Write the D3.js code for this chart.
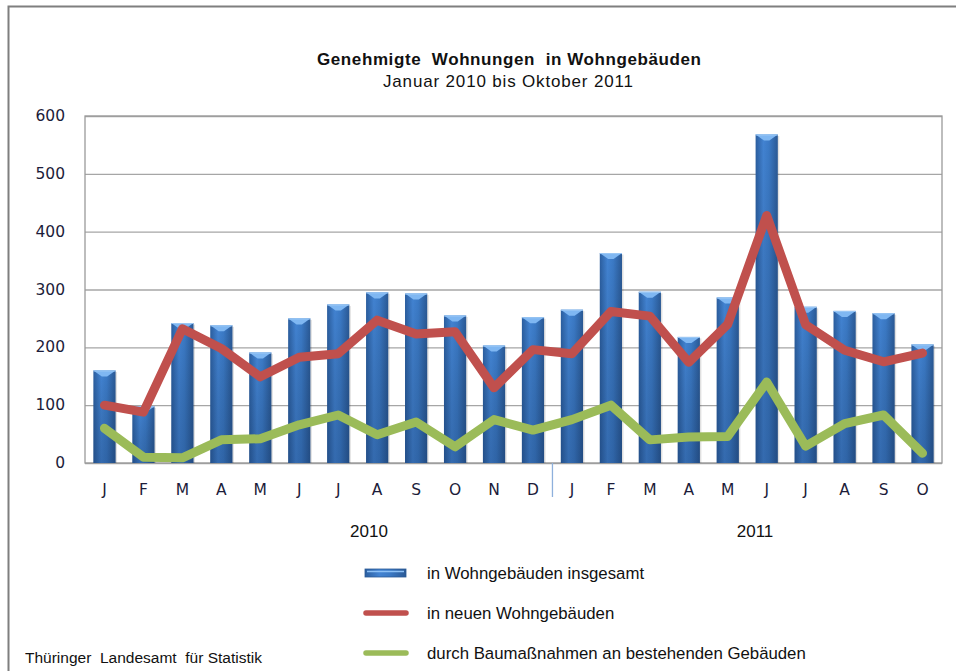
<!DOCTYPE html>
<html>
<head>
<meta charset="utf-8">
<script src="https://cdn.jsdelivr.net/npm/d3@7"></script>
<style>
  body { margin: 0; background: #fff; }
  svg { display: block; }
</style>
</head>
<body>
<svg></svg>
<script>
const width = 956;
const height = 671;
const margin = { top: 116, right: 14, bottom: 208, left: 85 };
const innerWidth = 942 - margin.left;
const innerHeight = 463 - margin.top;

// data, Jan 2010 .. Oct 2011
const months = ['J','F','M','A','M','J','J','A','S','O','N','D',
                'J','F','M','A','M','J','J','A','S','O'];
const years = ['2010', '2011'];
const insgesamt = [160, 98, 242, 238, 191, 250, 274, 295, 293, 255, 203, 252,
                   265, 363, 296, 218, 286, 568, 270, 263, 259, 205];
const neueGebaeude = [100, 88, 232, 198, 149, 183, 189, 247, 223, 227, 130, 196,
                      189, 262, 254, 174, 240, 428, 239, 195, 175, 190];
const bestehende = [60, 10, 9, 40, 42, 66, 83, 49, 71, 28, 75, 57,
                    75, 100, 40, 45, 46, 140, 29, 68, 83, 17];
const yTicks = [0, 100, 200, 300, 400, 500, 600];
const legendLabels = ['in Wohngebäuden insgesamt', 'in neuen Wohngebäuden',
                      'durch Baumaßnahmen an bestehenden Gebäuden'];

const svg = d3.select('svg')
  .attr('width', width)
  .attr('height', height);

const defs = svg.append('defs');
const grad = defs.append('linearGradient')
  .attr('id', 'barGrad')
  .attr('x1', 0).attr('x2', 1).attr('y1', 0).attr('y2', 0);
grad.append('stop').attr('offset', '0%').attr('stop-color', '#2b5e9f');
grad.append('stop').attr('offset', '35%').attr('stop-color', '#4283d2');
grad.append('stop').attr('offset', '60%').attr('stop-color', '#3b7ac6');
grad.append('stop').attr('offset', '100%').attr('stop-color', '#2a5995');
const vgrad = defs.append('linearGradient')
  .attr('id', 'barShade')
  .attr('x1', 0).attr('x2', 0).attr('y1', 0).attr('y2', 1);
vgrad.append('stop').attr('offset', '0%').attr('stop-color', '#000').attr('stop-opacity', 0);
vgrad.append('stop').attr('offset', '100%').attr('stop-color', '#0b2247').attr('stop-opacity', 0.25);

// outer frame
svg.append('path')
  .attr('d', `M8.5,${height} V6.5 H${width}`)
  .attr('fill', 'none')
  .attr('stroke', '#7f7f7f')
  .attr('stroke-width', 2);

// title
svg.append('text')
  .attr('x', 509).attr('y', 65)
  .attr('text-anchor', 'middle')
  .attr('xml:space', 'preserve')
  .attr('textLength', 384)
  .attr('lengthAdjust', 'spacing')
  .style('font-family', 'Liberation Sans, Arial, sans-serif')
  .style('font-size', '17px')
  .style('font-weight', 'bold')
  .attr('fill', '#111')
  .text('Genehmigte  Wohnungen  in Wohngebäuden');
svg.append('text')
  .attr('x', 508).attr('y', 87)
  .attr('text-anchor', 'middle')
  .attr('textLength', 250)
  .attr('lengthAdjust', 'spacing')
  .style('font-family', 'Liberation Sans, Arial, sans-serif')
  .style('font-size', '17px')
  .attr('fill', '#111')
  .text('Januar 2010 bis Oktober 2011');

const g = svg.append('g')
  .attr('transform', `translate(${margin.left}, ${margin.top})`);

const xScale = d3.scaleBand()
  .domain(d3.range(months.length))
  .range([margin.left, margin.left + innerWidth])
  .paddingInner(0.43)
  .paddingOuter(0.215);

const yScale = d3.scaleLinear()
  .domain([0, 600])
  .range([innerHeight, 0]);

// grid lines
const yAxis = d3.axisLeft(yScale)
  .tickValues(yTicks)
  .tickSize(-innerWidth)
  .tickFormat('');

const yAxisG = g.append('g').call(yAxis);
yAxisG.select('.domain').remove();
yAxisG.selectAll('.tick line')
  .attr('stroke', '#a6a6a6')
  .attr('stroke-width', 1.3);

// y labels
svg.append('g').selectAll('text').data(yTicks)
  .enter().append('text')
  .attr('x', 65)
  .attr('y', d => margin.top + yScale(d) + 5)
  .attr('text-anchor', 'end')
  .style('font-family', 'DejaVu Sans, Verdana, sans-serif')
  .style('font-size', '15.5px')
  .attr('fill', '#1c1c3a')
  .text(d => d);

// plot border
g.append('rect')
  .attr('width', innerWidth)
  .attr('height', innerHeight)
  .attr('fill', 'none')
  .attr('stroke', '#9a9a9a')
  .attr('stroke-width', 1.3);

// bars
const bw = xScale.bandwidth();
const barG = g.append('g').attr('transform', `translate(${-margin.left}, 0)`);
const bar = barG.selectAll('g').data(insgesamt)
  .enter().append('g')
  .attr('transform', (d, i) => `translate(${xScale(i)}, 0)`);

bar.append('rect')
  .attr('x', 1.5).attr('y', d => yScale(d) + 1.5)
  .attr('width', bw).attr('height', d => innerHeight - yScale(d) - 1.5)
  .attr('fill', '#000').attr('opacity', 0.12);
bar.append('rect')
  .attr('y', d => yScale(d))
  .attr('width', bw)
  .attr('height', d => innerHeight - yScale(d))
  .attr('fill', 'url(#barGrad)');
bar.append('rect')
  .attr('y', d => yScale(d))
  .attr('width', bw)
  .attr('height', d => innerHeight - yScale(d))
  .attr('fill', 'url(#barShade)');
// light cap on top of each bar
bar.append('path')
  .attr('d', d => {
    const y0 = yScale(d);
    return `M0,${y0} H${bw} L${bw * 0.62},${y0 + 6} H${bw * 0.38} Z`;
  })
  .attr('fill', '#7fb7f2');
bar.append('line')
  .attr('x1', 0).attr('x2', bw)
  .attr('y1', d => yScale(d) + 0.5).attr('y2', d => yScale(d) + 0.5)
  .attr('stroke', '#9cc8f5').attr('stroke-width', 1);

// lines
const line = d3.line()
  .x((d, i) => xScale(i) + bw / 2)
  .y(d => margin.top + yScale(d));

svg.append('path')
  .datum(neueGebaeude)
  .attr('d', line)
  .attr('fill', 'none')
  .attr('stroke', '#c0504d')
  .attr('stroke-width', 9)
  .attr('stroke-linejoin', 'round')
  .attr('stroke-linecap', 'round');

svg.append('path')
  .datum(bestehende)
  .attr('d', line)
  .attr('fill', 'none')
  .attr('stroke', '#9bbb59')
  .attr('stroke-width', 9)
  .attr('stroke-linejoin', 'round')
  .attr('stroke-linecap', 'round');

// x axis labels
svg.append('g').selectAll('text').data(months)
  .enter().append('text')
  .attr('x', (d, i) => xScale(i) + bw / 2)
  .attr('y', margin.top + innerHeight + 32)
  .attr('text-anchor', 'middle')
  .style('font-family', 'DejaVu Sans, Verdana, sans-serif')
  .style('font-size', '15.5px')
  .attr('fill', '#1c1c3a')
  .text(d => d);

// year separator
const sepX = (xScale(11) + xScale(12) + bw) / 2;
svg.append('line')
  .attr('x1', sepX).attr('x2', sepX)
  .attr('y1', margin.top + innerHeight).attr('y2', margin.top + innerHeight + 34)
  .attr('stroke', '#8eb0dc').attr('stroke-width', 1.3);

// year labels
svg.append('g').selectAll('text').data(years)
  .enter().append('text')
  .attr('x', (d, i) => i === 0 ? 369 : 755)
  .attr('y', 537)
  .attr('text-anchor', 'middle')
  .style('font-family', 'Liberation Sans, Arial, sans-serif')
  .style('font-size', '17px')
  .attr('fill', '#111')
  .text(d => d);

// legend
const legend = svg.append('g')
  .attr('transform', 'translate(364, 573)');
const legendY = [0, 40, 80];

legend.append('rect')
  .attr('x', 1).attr('y', legendY[0] - 4)
  .attr('width', 41).attr('height', 8)
  .attr('fill', 'url(#barGrad)');
legend.append('rect')
  .attr('x', 1).attr('y', legendY[0] - 4)
  .attr('width', 41).attr('height', 8)
  .attr('fill', 'none')
  .attr('stroke', '#2a5995').attr('stroke-width', 0.8);
legend.append('line')
  .attr('x1', 3).attr('x2', 40)
  .attr('y1', legendY[0] - 1.5).attr('y2', legendY[0] - 1.5)
  .attr('stroke', '#8cc0f5').attr('stroke-width', 1.5);

legend.append('line')
  .attr('x1', 2).attr('x2', 42)
  .attr('y1', legendY[1]).attr('y2', legendY[1])
  .attr('stroke', '#c0504d').attr('stroke-width', 5.5)
  .attr('stroke-linecap', 'round');
legend.append('line')
  .attr('x1', 2).attr('x2', 42)
  .attr('y1', legendY[2]).attr('y2', legendY[2])
  .attr('stroke', '#9bbb59').attr('stroke-width', 5.5)
  .attr('stroke-linecap', 'round');

legend.selectAll('text.leg').data(legendLabels)
  .enter().append('text')
  .attr('class', 'leg')
  .attr('x', 63)
  .attr('y', (d, i) => legendY[i] + 6)
  .style('font-family', 'Liberation Sans, Arial, sans-serif')
  .style('font-size', '16.8px')
  .attr('fill', '#111')
  .text(d => d);

// source
svg.append('text')
  .attr('x', 25).attr('y', 663)
  .attr('xml:space', 'preserve')
  .style('font-family', 'Liberation Sans, Arial, sans-serif')
  .style('font-size', '15.5px')
  .attr('fill', '#111')
  .text('Thüringer  Landesamt  für Statistik');
</script>
</body>
</html>
